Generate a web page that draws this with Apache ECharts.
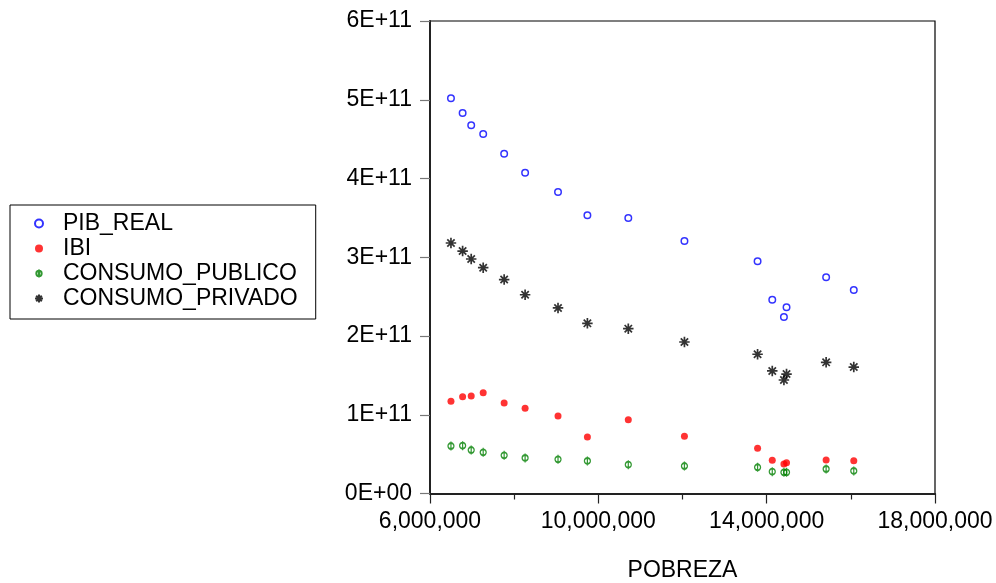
<!DOCTYPE html>
<html><head><meta charset="utf-8">
<script src="https://cdn.jsdelivr.net/npm/echarts@6/dist/echarts.min.js"></script>
<style>html,body{margin:0;padding:0;background:#fff}#c{width:996px;height:583px}</style>
</head><body><div id="c"></div>
<script>
const pobreza = [6498000, 6775000, 6979000, 7264000, 7762000, 8260000, 9042000, 9740000, 10712000, 12046000, 13784000, 14133000, 14472000, 14410000, 15413000, 16070000];
const pibReal = [501.8e9, 483.2e9, 467.6e9, 456.5e9, 431.5e9, 407.4e9, 382.9e9, 353.3e9, 349.8e9, 320.6e9, 294.9e9, 246.1e9, 236.4e9, 224.1e9, 274.5e9, 258.4e9];
const ibi = [117.1e9, 122.9e9, 123.8e9, 128.0e9, 114.9e9, 108.2e9, 98.4e9, 71.7e9, 93.7e9, 72.6e9, 57.4e9, 42.2e9, 39.1e9, 37.5e9, 42.5e9, 41.7e9];
const consumoPublico = [60.3e9, 60.7e9, 55.2e9, 52.3e9, 48.5e9, 45.1e9, 43.4e9, 41.3e9, 36.6e9, 34.9e9, 33.3e9, 27.7e9, 26.9e9, 26.9e9, 31.1e9, 28.6e9];
const consumoPrivado = [318.1e9, 307.9e9, 297.8e9, 286.7e9, 271.7e9, 252.4e9, 235.6e9, 216.1e9, 209.3e9, 192.4e9, 176.8e9, 155.6e9, 151.7e9, 144.1e9, 166.6e9, 160.6e9];
const seriesNames = ['PIB_REAL', 'IBI', 'CONSUMO_PUBLICO', 'CONSUMO_PRIVADO'];
const xMajorTicks = [6000000, 10000000, 14000000, 18000000];
const xMinorTicks = [8000000, 12000000, 16000000];
const yTicks = [0, 1e11, 2e11, 3e11, 4e11, 5e11, 6e11];

const FONT = 'Liberation Sans, Arial, sans-serif';
const FS = 23;
function zip(ys) { return pobreza.map((x, i) => [x, ys[i]]); }
function fmtX(v) { return Math.round(v).toLocaleString('en-US'); }
function fmtY(v) {
  if (v === 0) return '0E+00';
  const e = Math.floor(Math.log10(v) + 1e-9);
  const m = Math.round(v / Math.pow(10, e));
  return m + 'E+' + (e < 10 ? '0' + e : e);
}

const chart = echarts.init(document.getElementById('c'), null, {renderer: 'canvas'});
chart.setOption({
  animation: false,
  backgroundColor: '#fff',
  textStyle: {fontFamily: FONT},
  grid: {left: 430, top: 21, width: 505, height: 472.5, containLabel: false, outerBoundsMode: 'none',
    show: true, borderColor: '#000', borderWidth: 1.2, backgroundColor: 'transparent'},
  legend: {
    orient: 'vertical', left: 10, top: 205,
    data: seriesNames,
    itemWidth: 38, itemHeight: 8, itemGap: 2,
    padding: [7, 18, 9, 24],
    borderColor: '#000', borderWidth: 1,
    textStyle: {fontFamily: FONT, fontSize: FS, lineHeight: 23, color: '#000'}
  },
  xAxis: [{
    type: 'value', min: 6000000, max: 18000000,
    name: 'POBREZA', nameLocation: 'middle', nameGap: 66,
    nameTextStyle: {fontFamily: FONT, fontSize: FS, color: '#000'},
    axisLine: {show: true, lineStyle: {color: '#222', width: 2}},
    axisTick: {show: true, length: 10, inside: false, customValues: xMajorTicks, lineStyle: {color: '#222', width: 1.2}},
    axisLabel: {customValues: xMajorTicks, formatter: fmtX, margin: 17, fontFamily: FONT, fontSize: FS, color: '#000'},
    splitLine: {show: false}
  }, {
    type: 'value', min: 6000000, max: 18000000, position: 'bottom',
    axisLine: {show: false},
    axisTick: {show: true, length: 6, customValues: xMinorTicks, lineStyle: {color: '#222', width: 1.2}},
    axisLabel: {show: false},
    splitLine: {show: false}
  }],
  yAxis: {
    type: 'value', min: 0, max: 6e11, interval: 1e11,
    axisLine: {show: true, lineStyle: {color: '#222', width: 2}},
    axisTick: {show: true, length: 10, lineStyle: {color: '#777', width: 1.2}},
    axisLabel: {formatter: fmtY, margin: 18, fontFamily: FONT, fontSize: FS, color: '#000'},
    splitLine: {show: false}
  },
  series: [
    {name: seriesNames[0], type: 'scatter', data: zip(pibReal), symbol: 'circle', symbolSize: 6.5,
      itemStyle: {color: '#fff', borderColor: '#0000ff', borderWidth: 1.5}},
    {name: seriesNames[1], type: 'scatter', data: zip(ibi), symbol: 'circle', symbolSize: 7,
      itemStyle: {color: '#ff0000', borderWidth: 0}},
    {name: seriesNames[2], type: 'scatter', data: zip(consumoPublico),
      symbol: 'path://M0,4.5 A3,3 0 1 1 6,4.5 A3,3 0 1 1 0,4.5 M3,0 L3,9', symbolSize: [6, 9],
      itemStyle: {color: 'transparent', borderColor: '#008000', borderWidth: 1.5}},
    {name: seriesNames[3], type: 'scatter', data: zip(consumoPrivado),
      symbol: 'path://M0,5 L10,5 M5,0 L5,10 M1.5,1.5 L8.5,8.5 M1.5,8.5 L8.5,1.5', symbolSize: 10.5,
      itemStyle: {color: 'transparent', borderColor: '#000', borderWidth: 1.7}}
  ]
});
</script>
</body></html>
